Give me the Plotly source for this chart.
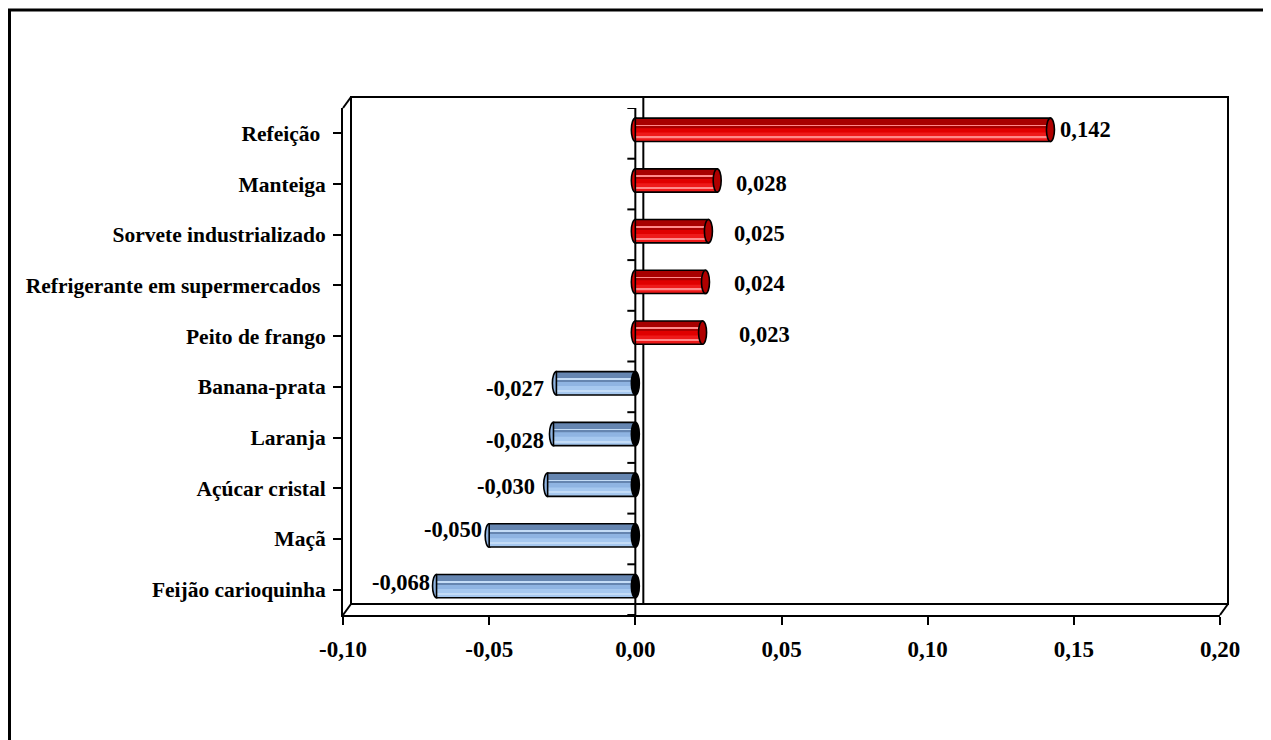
import plotly.graph_objects as go

# ---------------- data ----------------
categories = [
    "Refeição ",
    "Manteiga",
    "Sorvete industrializado",
    "Refrigerante em supermercados ",
    "Peito de frango",
    "Banana-prata",
    "Laranja",
    "Açúcar cristal",
    "Maçã",
    "Feijão carioquinha",
]
values = [0.142, 0.028, 0.025, 0.024, 0.023, -0.027, -0.028, -0.030, -0.050, -0.068]
x_ticks = [-0.10, -0.05, 0.00, 0.05, 0.10, 0.15, 0.20]

# ---------------- style ----------------
FONT = "Liberation Serif"
# colours: (mid, dark top band, highlight, light bottom, cap)
RED = dict(mid="#e00000", dark="#a80000", hi="#ff8a8a", low="#ee1a1a", cap="#b00000")
BLUE = dict(mid="#8fb4e2", dark="#6585b0", hi="#c4dcf6", low="#a6c8ef", cap="black")
label_gap_px = [4, 13, 20, 23, 30, 6, 3, 7, 1, 1]
label_dy_px = [0, -3, -2, -2, -2, -5, -6, -2, 6, 4]
BAR_W = 0.46
DEPTH_SHIFT = 0.07  # bars sit mid-depth: slightly above band centre
CAP_R = 4          # half width of cylinder cap ellipse, px
DX, DY = 8, 11     # 3D depth offset, px
OFF = 8            # page body margin
W, H = 1271 - OFF, 740 - OFF
PLOT_L, PLOT_R, PLOT_T, PLOT_B = 343, 1220, 108, 615   # page px
ML, MT = PLOT_L - OFF, PLOT_T - OFF
MR, MB = W - (PLOT_R - OFF), H - (PLOT_B - OFF)
PW, PH = W - ML - MR, H - MT - MB
dxp, dyp = DX / PW, DY / PH
# shading bands across the bar height: (start fraction, size fraction, key)
bands = [(0.0, 0.30, "dark"), (0.30, 0.07, "hi"), (0.37, 0.06, "dark"),
         (0.62, 0.38, "low"), (0.80, 0.06, "hi")]


def fmt(v, d):
    return f"{v:.{d}f}".replace(".", ",")


n = len(categories)
idx = list(range(n))
pal = [RED if v >= 0 else BLUE for v in values]
top_off = -BAR_W / 2 - DEPTH_SHIFT

fig = go.Figure()
# base fill
fig.add_trace(go.Bar(y=idx, x=values, orientation="h", width=BAR_W,
                     offset=top_off,
                     marker=dict(color=[p["mid"] for p in pal], line=dict(width=0)),
                     hoverinfo="skip", showlegend=False))
for start, size, key in bands:
    fig.add_trace(go.Bar(y=idx, x=values, orientation="h", width=BAR_W * size,
                         offset=top_off + BAR_W * start,
                         marker=dict(color=[p[key] for p in pal], line=dict(width=0)),
                         hoverinfo="skip", showlegend=False))
# outline
fig.add_trace(go.Bar(y=idx, x=values, orientation="h", width=BAR_W,
                     offset=top_off,
                     marker=dict(color="rgba(0,0,0,0)",
                                 line=dict(color="black", width=1.6)),
                     hoverinfo="skip", showlegend=False))

shapes = []
line_k = dict(color="black", width=2)
# back plane
shapes.append(dict(type="rect", xref="paper", yref="paper",
                   x0=dxp, x1=1 + dxp, y0=dyp, y1=1 + dyp,
                   line=line_k, layer="below"))
# connecting depth edges
for (px, py) in [(0, 1), (0, 0), (1, 0)]:
    shapes.append(dict(type="line", xref="paper", yref="paper",
                       x0=px, y0=py, x1=px + dxp, y1=py + dyp,
                       line=line_k, layer="below"))
# back zero line
shapes.append(dict(type="line", xref="x", yref="paper", xsizemode="pixel",
                   xanchor=0, x0=DX, x1=DX, y0=dyp, y1=1 + dyp,
                   line=line_k, layer="below"))
# front zero category axis
shapes.append(dict(type="line", xref="x", yref="paper",
                   x0=0, x1=0, y0=0, y1=1, line=line_k, layer="below"))
for i in range(n + 1):
    shapes.append(dict(type="line", xref="x", yref="y", xsizemode="pixel",
                       xanchor=0, x0=-8, x1=0, y0=i - 0.5, y1=i - 0.5,
                       line=line_k, layer="below"))

# cylinder ends
for i, v, p in zip(idx, values, pal):
    far = 0 if v >= 0 else v       # rounded far end (left)
    near = v if v >= 0 else 0      # visible cap (right)
    y0, y1 = i + top_off, i + top_off + BAR_W
    shapes.append(dict(type="circle", xref="x", yref="y", xsizemode="pixel",
                       xanchor=far, x0=-CAP_R, x1=CAP_R, y0=y0, y1=y1,
                       fillcolor=p["mid"], line=dict(color="black", width=1.6),
                       layer="below"))
    shapes.append(dict(type="circle", xref="x", yref="y", xsizemode="pixel",
                       xanchor=near, x0=-CAP_R, x1=CAP_R, y0=y0, y1=y1,
                       fillcolor=p["cap"], line=dict(color="black", width=1.6),
                       layer="above"))

# outer border (left/top edge near page px 9, right/bottom off-page)
shapes.append(dict(type="rect", xref="paper", yref="paper",
                   x0=(9.5 - PLOT_L) / PW, x1=(1300 - PLOT_L) / PW,
                   y0=(PLOT_B - 780) / PH, y1=(PLOT_B - 10) / PH,
                   line=dict(color="black", width=3), layer="below"))


def bold(size):
    return dict(family=FONT, size=size, color="black", weight="bold")


annotations = []
for i, v, g, dy in zip(idx, values, label_gap_px, label_dy_px):
    pos = v >= 0
    annotations.append(dict(x=v, y=i - DEPTH_SHIFT, xref="x", yref="y",
                            text=fmt(v, 3), showarrow=False,
                            xanchor="left" if pos else "right",
                            xshift=(CAP_R + g) if pos else -(CAP_R + g),
                            yshift=dy, font=bold(22.5)))

fig.update_layout(
    width=W, height=H,
    margin=dict(l=ML, r=MR, t=MT, b=MB, pad=0),
    paper_bgcolor="white", plot_bgcolor="white",
    font=bold(21),
    barmode="overlay",
    shapes=shapes, annotations=annotations,
    xaxis=dict(range=[-0.1, 0.2], tickvals=x_ticks,
               ticktext=[fmt(t, 2) for t in x_ticks],
               showgrid=False, zeroline=False, showline=True,
               linecolor="black", linewidth=2, ticks="outside",
               ticklen=8, tickwidth=2, tickcolor="black",
               ticklabelstandoff=4, tickfont=bold(23)),
    yaxis=dict(range=[n - 0.5, -0.5], tickvals=idx, ticktext=categories,
               showgrid=False, zeroline=False, showline=True,
               linecolor="black", linewidth=2, ticks="outside",
               ticklen=8, tickwidth=2, tickcolor="black",
               ticklabelstandoff=3, tickfont=bold(21.5), tickson="boundaries"),
)

fig.write_html("out.html")
